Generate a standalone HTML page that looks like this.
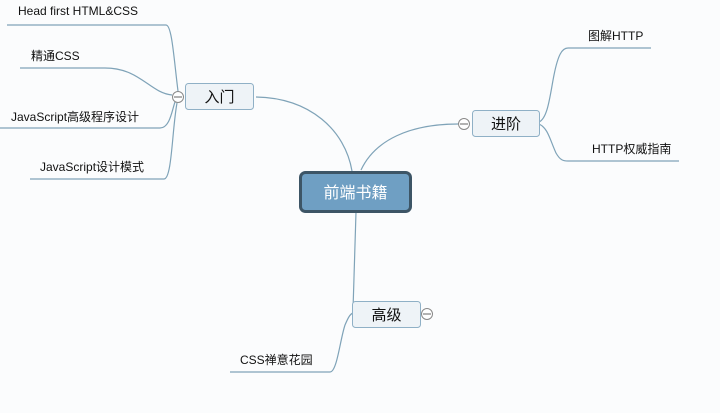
<!DOCTYPE html>
<html><head><meta charset="utf-8"><style>
html,body{margin:0;padding:0;background:#fbfcfd;}
svg{display:block}
text{font-family:"Liberation Sans","Noto Sans CJK SC",sans-serif;fill:#111;}
</style></head><body>
<svg width="720" height="413" viewBox="0 0 720 413" xmlns="http://www.w3.org/2000/svg">
<g fill="none" stroke="#7fa3b8" stroke-width="1.2">
<path d="M352 171 C345 130 310 98 256 97"/>
<path d="M361 170 C375 140 410 124 458 124"/>
<path d="M356 212 L353 310"/>
<path d="M7 25 L166 25 C172 25 174 60 178 91"/>
<path d="M20 68 L105 68 C140 68 150 93 172 95"/>
<path d="M0 128 L160 128 C170 128 172 110 175 102"/>
<path d="M30 179 L164 179 C172 179 172 130 177 103"/>
<path d="M539 122 C548 118 550 95 554 75 C558 55 562 48 568 48 L651 48"/>
<path d="M539 124 C548 128 550 140 556 153 C560 160 563 161 568 161 L679 161"/>
<path d="M230 372 L330 372 C337 372 340 340 345 325 C348 318 350 314 353 313"/>
</g>
<rect x="300.5" y="172.5" width="110" height="39" rx="5" fill="#6f9fc3" stroke="#3d5566" stroke-width="3"/>
<text x="355.5" y="198" font-size="16" text-anchor="middle" style="fill:#fff">前端书籍</text>
<rect x="185.5" y="83.5" width="68" height="26" rx="3" fill="#eef3f7" stroke="#8fb0c6"/>
<text x="219.5" y="102" font-size="15" text-anchor="middle">入门</text>
<circle cx="178" cy="97" r="5.5" fill="#fff" stroke="#888"/><line x1="174" y1="97" x2="182" y2="97" stroke="#666"/>
<rect x="472.5" y="110.5" width="67" height="26" rx="3" fill="#eef3f7" stroke="#8fb0c6"/>
<text x="506" y="129" font-size="15" text-anchor="middle">进阶</text>
<circle cx="464" cy="124" r="5.5" fill="#fff" stroke="#888"/><line x1="460" y1="124" x2="468" y2="124" stroke="#666"/>
<rect x="352.5" y="301.5" width="68" height="26" rx="3" fill="#eef3f7" stroke="#8fb0c6"/>
<text x="386.5" y="320" font-size="15" text-anchor="middle">高级</text>
<circle cx="427" cy="314" r="5.5" fill="#fff" stroke="#888"/><line x1="423" y1="314" x2="431" y2="314" stroke="#666"/>
<g font-size="12">
<text x="18" y="15">Head first HTML&amp;CSS</text>
<text x="31" y="60">精通CSS</text>
<text x="11" y="121">JavaScript高级程序设计</text>
<text x="40" y="171">JavaScript设计模式</text>
<text x="588" y="40">图解HTTP</text>
<text x="592" y="153">HTTP权威指南</text>
<text x="240" y="364">CSS禅意花园</text>
</g>
</svg>
</body></html>
